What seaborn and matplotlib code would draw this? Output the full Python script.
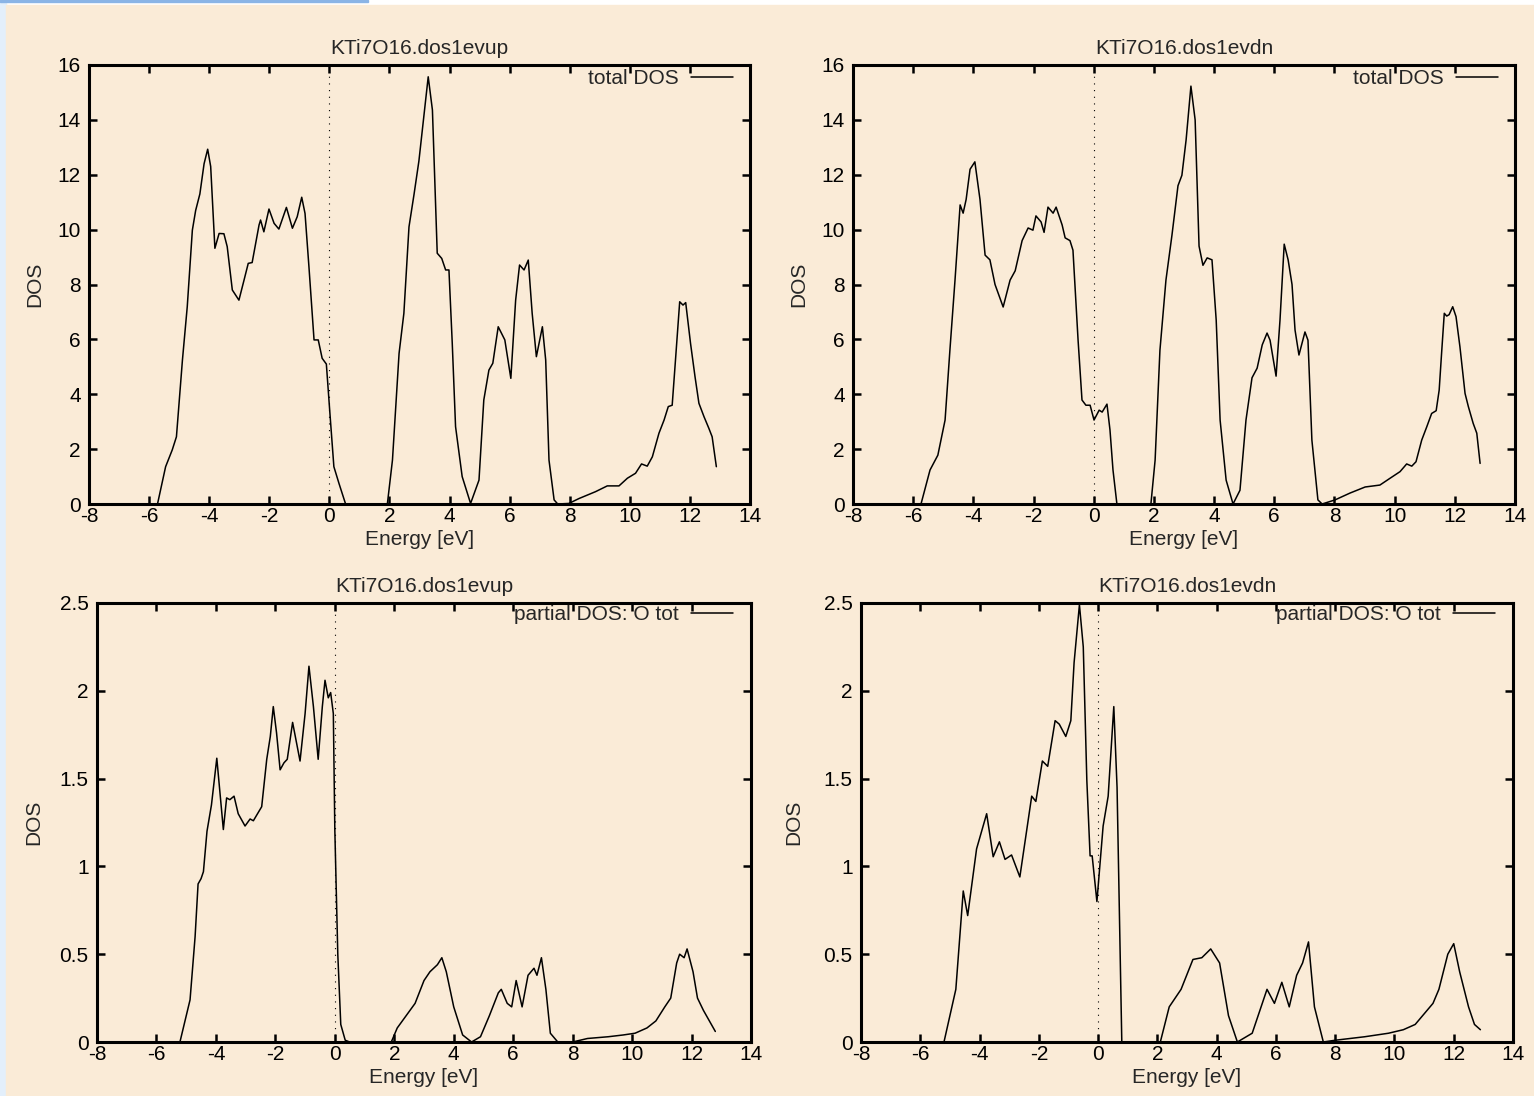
import numpy as np
import pandas as pd
import matplotlib
matplotlib.use("Agg")
import matplotlib.pyplot as plt
import seaborn as sns
from matplotlib.patches import Rectangle
from matplotlib.ticker import FormatStrFormatter

# total DOS, spin up
up_tot_e = [-5.72, -5.45, -5.23, -5.09, -4.89, -4.73, -4.56, -4.45, -4.31, -4.17, -4.05, -3.95,
            -3.81, -3.67, -3.51, -3.40, -3.23, -3.01, -2.84, -2.70, -2.57, -2.34, -2.29, -2.18,
            -2.01, -1.84, -1.68, -1.43, -1.23, -1.07, -0.92, -0.81, -0.68, -0.51, -0.37, -0.24,
            -0.10, 0.01, 0.15, 0.32, 0.54, 1.93, 2.10, 2.32, 2.48, 2.65, 2.82, 2.98, 3.29, 3.43,
            3.59, 3.74, 3.87, 3.98, 4.09, 4.20, 4.42, 4.70, 4.98, 5.14, 5.31, 5.44, 5.62, 5.84,
            6.04, 6.20, 6.33, 6.48, 6.62, 6.75, 6.89, 7.09, 7.20, 7.31, 7.48, 7.60, 7.97, 8.31,
            8.86, 9.25, 9.64, 9.92, 10.19, 10.39, 10.58, 10.75, 10.97, 11.14, 11.28, 11.41, 11.52,
            11.66, 11.77, 11.86, 12.02, 12.17, 12.30, 12.47, 12.63, 12.74, 12.88]
up_tot_d = [0, 1.36, 1.97, 2.45, 5.25, 7.19, 9.98, 10.7, 11.3, 12.4, 12.93, 12.3,
            9.32, 9.86, 9.85, 9.38, 7.80, 7.43, 8.16, 8.77, 8.8, 10.17, 10.35, 9.92,
            10.75, 10.23, 10.02, 10.81, 10.05, 10.47, 11.18, 10.59, 8.65, 5.98, 5.98, 5.31,
            5.10, 3.43, 1.36, 0.75, 0, 0, 1.6, 5.49, 6.95, 10.1, 11.3, 12.5, 15.57, 14.36,
            9.14, 8.95, 8.53, 8.53, 5.86, 2.82, 1.0, 0.02, 0.87, 3.79, 4.88, 5.13, 6.46, 5.98,
            4.58, 7.43, 8.71, 8.53, 8.89, 6.95, 5.37, 6.46, 5.25, 1.6, 0.15, 0, 0.02, 0.2,
            0.45, 0.66, 0.66, 0.94, 1.12, 1.46, 1.38, 1.72, 2.58, 3.06, 3.55, 3.6, 5.25,
            7.37, 7.25, 7.34, 5.86, 4.64, 3.67, 3.18, 2.76, 2.45, 1.36]

# total DOS, spin down
dn_tot_e = [-5.74, -5.44, -5.18, -4.94, -4.78, -4.61, -4.44, -4.34, -4.24, -4.11, -3.95, -3.78,
            -3.61, -3.45, -3.28, -3.01, -2.78, -2.61, -2.38, -2.18, -2.02, -1.92, -1.75, -1.65,
            -1.52, -1.35, -1.25, -1.05, -0.95, -0.79, -0.69, -0.52, -0.39, -0.26, -0.12, 0.01,
            0.18, 0.28, 0.44, 0.54, 0.64, 0.77, 1.90, 2.04, 2.20, 2.40, 2.60, 2.80, 2.93, 3.07,
            3.23, 3.37, 3.50, 3.63, 3.77, 3.93, 4.07, 4.20, 4.40, 4.63, 4.86, 5.06, 5.26, 5.43,
            5.60, 5.76, 5.86, 6.06, 6.19, 6.33, 6.46, 6.59, 6.69, 6.82, 7.02, 7.12, 7.25, 7.45,
            7.59, 8.02, 8.52, 9.02, 9.51, 9.85, 10.18, 10.40, 10.57, 10.71, 10.90, 11.07, 11.23,
            11.38, 11.48, 11.56, 11.65, 11.73, 11.81, 11.93, 12.04, 12.17, 12.34, 12.45, 12.61,
            12.73, 12.84]
dn_tot_d = [0, 1.24, 1.78, 3.06, 5.6, 8.16, 10.9, 10.6, 11.1, 12.2, 12.47, 11.1,
            9.07, 8.9, 8.0, 7.18, 8.16, 8.5, 9.6, 10.06, 9.98, 10.5, 10.28, 9.9,
            10.82, 10.6, 10.82, 10.17, 9.7, 9.6, 9.25, 5.97, 3.79, 3.6, 3.6, 3.06,
            3.42, 3.35, 3.64, 2.7, 1.24, 0, 0, 1.6, 5.6, 8.16, 9.8, 11.6, 11.98, 13.27,
            15.23, 14.0, 9.4, 8.7, 8.97, 8.9, 6.7, 3.06, 0.87, 0, 0.5, 3.06, 4.6, 4.95,
            5.8, 6.23, 5.97, 4.66, 6.7, 9.47, 8.9, 8.0, 6.34, 5.43, 6.27, 5.97, 2.33, 0.15,
            0, 0.15, 0.4, 0.62, 0.69, 0.94, 1.18, 1.46, 1.38, 1.54, 2.33, 2.82, 3.3,
            3.4, 4.15, 5.49, 6.95, 6.85, 6.9, 7.19, 6.83, 5.73, 4.03, 3.55, 2.94,
            2.58, 1.48]

# partial DOS O tot, spin up
up_o_e = [-5.21, -4.87, -4.70, -4.60, -4.50, -4.42, -4.30, -4.15, -3.97, -3.75, -3.64, -3.53,
          -3.39, -3.25, -3.02, -2.85, -2.74, -2.46, -2.29, -2.17, -2.07, -1.96, -1.84, -1.71,
          -1.60, -1.42, -1.17, -1.00, -0.87, -0.72, -0.56, -0.42, -0.33, -0.22, -0.14, -0.05,
          0.00, 0.10, 0.20, 0.35, 0.50, 1.90, 2.10, 2.40, 2.70, 3.00, 3.20, 3.45, 3.60, 3.75,
          4.00, 4.30, 4.60, 4.90, 5.20, 5.50, 5.60, 5.80, 5.95, 6.10, 6.30, 6.50, 6.70, 6.80,
          6.95, 7.10, 7.25, 7.50, 8.00, 8.50, 9.20, 9.70, 10.10, 10.50, 10.80, 11.10, 11.30,
          11.50, 11.60, 11.75, 11.85, 12.05, 12.20, 12.40, 12.60, 12.80]
up_o_d = [0, 0.24, 0.6, 0.9, 0.93, 0.97, 1.2, 1.35, 1.616, 1.21, 1.39, 1.38,
          1.40, 1.30, 1.23, 1.27, 1.26, 1.34, 1.61, 1.74, 1.91, 1.76, 1.55, 1.59,
          1.61, 1.82, 1.60, 1.87, 2.14, 1.91, 1.61, 1.91, 2.06, 1.96, 1.99, 1.87,
          1.21, 0.5, 0.1, 0.01, 0, 0, 0.08, 0.15, 0.22, 0.35, 0.4, 0.44, 0.48, 0.4,
          0.2, 0.04, 0, 0.03, 0.15, 0.28, 0.3, 0.22, 0.2, 0.35, 0.2, 0.38, 0.42, 0.38,
          0.48, 0.3, 0.05, 0, 0, 0.02, 0.03, 0.04, 0.05, 0.08, 0.12, 0.2, 0.25,
          0.45, 0.5, 0.48, 0.53, 0.4, 0.25, 0.18, 0.12, 0.06]

# partial DOS O tot, spin down
dn_o_e = [-5.20, -4.80, -4.55, -4.40, -4.10, -3.76, -3.54, -3.33, -3.14, -2.92, -2.64, -2.24,
          -2.10, -1.88, -1.70, -1.45, -1.31, -1.09, -0.92, -0.81, -0.63, -0.50, -0.38, -0.27,
          -0.20, -0.04, 0.17, 0.34, 0.53, 0.64, 0.80, 2.10, 2.40, 2.80, 3.20, 3.50, 3.80, 4.10,
          4.40, 4.70, 5.20, 5.70, 5.95, 6.20, 6.45, 6.70, 6.90, 7.10, 7.30, 7.60, 8.00, 9.00,
          9.80, 10.30, 10.70, 11.30, 11.50, 11.80, 12.00, 12.20, 12.50, 12.70, 12.90]
dn_o_d = [0, 0.3, 0.86, 0.72, 1.1, 1.30, 1.055, 1.14, 1.04, 1.065, 0.94, 1.40,
          1.37, 1.60, 1.57, 1.83, 1.81, 1.74, 1.83, 2.16, 2.49, 2.25, 1.49, 1.06,
          1.06, 0.8, 1.23, 1.40, 1.91, 1.45, 0, 0, 0.2, 0.3, 0.47, 0.48, 0.53, 0.45,
          0.15, 0, 0.05, 0.3, 0.22, 0.34, 0.2, 0.38, 0.45, 0.57, 0.2, 0, 0.01, 0.03,
          0.05, 0.07, 0.1, 0.22, 0.3, 0.5, 0.56, 0.4, 0.2, 0.1, 0.07]

W, H = 1534, 1096
BG = "#FAEBD7"
FS = 15

sns.set_style("ticks")
plt.rcParams["font.family"] = ["Liberation Sans", "DejaVu Sans"]
plt.rcParams["axes.unicode_minus"] = False

fig = plt.figure(figsize=(W / 100, H / 100), dpi=100, facecolor="white")
fig.add_artist(Rectangle((0, 0), 6 / W, 1, transform=fig.transFigure, color="#E3EFFB", zorder=-10))
fig.add_artist(Rectangle((6 / W, 0), 1, (H - 5) / H, transform=fig.transFigure, color=BG, zorder=-10))
fig.add_artist(Rectangle((0, (H - 2) / H), 368 / W, 2 / H, transform=fig.transFigure,
                         color="#8AB4E6", zorder=-9))


def panel(px, energy, dos, title, label, ymax, ystep, ylab_x, leg_x, leg_y):
    left, top, right, bottom = px
    ax = fig.add_axes([left / W, 1 - bottom / H, (right - left) / W, (bottom - top) / H])
    ax.set_facecolor(BG)
    df = pd.DataFrame({"Energy": energy, "DOS": dos})
    sns.lineplot(data=df, x="Energy", y="DOS", ax=ax, color="black", lw=1.1,
                 label=label, sort=False, estimator=None)
    ax.axvline(0, color="black", ls=(0, (1, 5)), lw=0.8)
    ax.set_xlim(-8, 14)
    ax.set_ylim(0, ymax)
    ax.set_xticks(np.arange(-8, 15, 2))
    ax.set_yticks(np.arange(0, ymax + ystep / 2, ystep))
    ax.xaxis.set_major_formatter(FormatStrFormatter("%g"))
    ax.yaxis.set_major_formatter(FormatStrFormatter("%g"))
    ax.tick_params(direction="in", length=6, width=1.8, top=True, right=True,
                   labelsize=FS, colors="black")
    ax.tick_params(axis="x", pad=2)
    ax.tick_params(axis="y", pad=6)
    for s in ax.spines.values():
        s.set_linewidth(2.2)
        s.set_color("black")
    ax.set_title(title, fontsize=FS, pad=8)
    ax.set_xlabel("Energy [eV]", fontsize=FS, labelpad=3)
    ax.set_ylabel("DOS", fontsize=FS)
    ax.yaxis.set_label_coords(ylab_x, 0.5)
    ax.legend(loc="center right", bbox_to_anchor=(leg_x, leg_y), frameon=False,
              markerfirst=False, fontsize=FS, handlelength=2.0, handletextpad=0.6,
              borderpad=0, borderaxespad=0)
    return ax


panel((89, 65, 750, 504), up_tot_e, up_tot_d, "KTi7O16.dos1evup", "total DOS",
      16, 2, -0.068, 1 - 17 / 661, 1 - 14 / 439)
panel((853, 65, 1515, 504), dn_tot_e, dn_tot_d, "KTi7O16.dos1evdn", "total DOS",
      16, 2, -0.068, 1 - 17 / 662, 1 - 14 / 439)
panel((97, 603, 751, 1042), up_o_e, up_o_d, "KTi7O16.dos1evup", "partial DOS: O tot",
      2.5, 0.5, -0.082, 1 - 18 / 654, 1 - 12 / 439)
panel((861, 603, 1513, 1042), dn_o_e, dn_o_d, "KTi7O16.dos1evdn", "partial DOS: O tot",
      2.5, 0.5, -0.088, 1 - 18 / 652, 1 - 12 / 439)

fig.savefig("out.png", dpi=100, facecolor=fig.get_facecolor())
